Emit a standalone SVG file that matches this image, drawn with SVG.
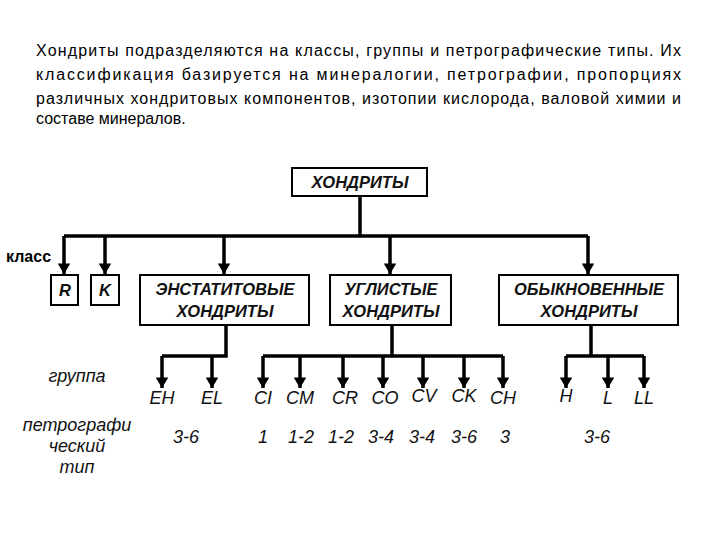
<svg xmlns="http://www.w3.org/2000/svg" width="720" height="540" viewBox="0 0 720 540">
<defs>
<style>
.p{font-family:"Liberation Sans",Arial,sans-serif;font-size:16px;fill:#000}
.b{font-family:"Liberation Sans",Arial,sans-serif;font-size:16.5px;font-weight:bold;font-style:italic;fill:#111;text-anchor:middle}
.l{font-family:"Liberation Sans",Arial,sans-serif;font-size:18px;font-style:italic;fill:#111;text-anchor:middle}
.box{fill:#fff;stroke:#000;stroke-width:2}
.c{fill:none;stroke:#000;stroke-width:3.5}
.ar{fill:none;stroke:#000;stroke-width:3.5;marker-end:url(#d)}
</style>
<marker id="d" viewBox="0 0 10 12" refX="10" refY="6" markerWidth="3.2" markerHeight="3.6" orient="auto" markerUnits="strokeWidth"><path d="M0,0 L10,6 L0,12 Z" fill="#000"/></marker>
</defs>
<rect width="720" height="540" fill="#fff"/>
<g id="intro">
<text class="p" x="36" y="56" textLength="645" lengthAdjust="spacing">Хондриты подразделяются на классы, группы и петрографические типы. Их</text>
<text class="p" x="36" y="80" textLength="645" lengthAdjust="spacing">классификация базируется на минералогии, петрографии, пропорциях</text>
<text class="p" x="36" y="104" textLength="645" lengthAdjust="spacing">различных хондритовых компонентов, изотопии кислорода, валовой химии и</text>
<text class="p" x="36" y="124">составе минералов.</text>
</g>
<g id="connectors">
<path class="c" d="M360,196 V236 M64,236 H588"/>
<path class="ar" d="M64,236 V274"/><path class="ar" d="M105,236 V274"/><path class="ar" d="M224,236 V274"/><path class="ar" d="M390,236 V274"/><path class="ar" d="M588,236 V274"/>
<path class="c" d="M226,325 V356 H162 M392,325 V356 M263,356 H503 M591,325 V356 M566,356 H644"/>
<path class="ar" d="M162,356 V388"/><path class="ar" d="M212,356 V388"/><path class="ar" d="M263,356 V388"/><path class="ar" d="M300,356 V388"/><path class="ar" d="M343,356 V388"/><path class="ar" d="M383,356 V388"/><path class="ar" d="M423,356 V388"/><path class="ar" d="M464,356 V388"/><path class="ar" d="M503,356 V388"/><path class="ar" d="M566,356 V388"/><path class="ar" d="M608,356 V388"/><path class="ar" d="M644,356 V388"/>
</g>
<g id="root"><rect class="box" x="292" y="168" width="135" height="28"/><text class="b" x="360" y="188">ХОНДРИТЫ</text></g>
<g id="R"><rect class="box" x="51" y="275" width="27" height="30"/><text class="b" x="65" y="296">R</text></g>
<g id="K"><rect class="box" x="91" y="275" width="28" height="30"/><text class="b" x="105" y="296">K</text></g>
<g id="E"><rect class="box" x="140" y="275" width="169" height="50"/><text class="b" x="225" y="295">ЭНСТАТИТОВЫЕ</text><text class="b" x="225" y="317">ХОНДРИТЫ</text></g>
<g id="C"><rect class="box" x="330" y="275" width="121" height="50"/><text class="b" x="391" y="295">УГЛИСТЫЕ</text><text class="b" x="391" y="317">ХОНДРИТЫ</text></g>
<g id="O"><rect class="box" x="499" y="275" width="179" height="50"/><text class="b" x="589" y="295">ОБЫКНОВЕННЫЕ</text><text class="b" x="589" y="317">ХОНДРИТЫ</text></g>
<g id="labels">
<text class="p" x="6" y="262" font-weight="bold" fill="#222">класс</text>
<text class="l" x="77" y="382">группа</text>
<text class="l" x="77" y="431">петрографи</text>
<text class="l" x="77" y="452">ческий</text>
<text class="l" x="77" y="473">тип</text>
</g>
<g id="groups">
<text class="l" x="162" y="404">EH</text><text class="l" x="212" y="404">EL</text>
<text class="l" x="263" y="404">CI</text><text class="l" x="300" y="404">CM</text><text class="l" x="345" y="404">CR</text><text class="l" x="385" y="404">CO</text><text class="l" x="424" y="402">CV</text><text class="l" x="464" y="402">CK</text><text class="l" x="503" y="404">CH</text>
<text class="l" x="566" y="402">H</text><text class="l" x="608" y="404">L</text><text class="l" x="644" y="404">LL</text>
</g>
<g id="types">
<text class="l" x="186" y="443">3-6</text><text class="l" x="263" y="443">1</text><text class="l" x="301" y="443">1-2</text><text class="l" x="341" y="443">1-2</text><text class="l" x="381" y="443">3-4</text><text class="l" x="422" y="443">3-4</text><text class="l" x="464" y="443">3-6</text><text class="l" x="505" y="443">3</text><text class="l" x="597" y="443">3-6</text>
</g>
</svg>
